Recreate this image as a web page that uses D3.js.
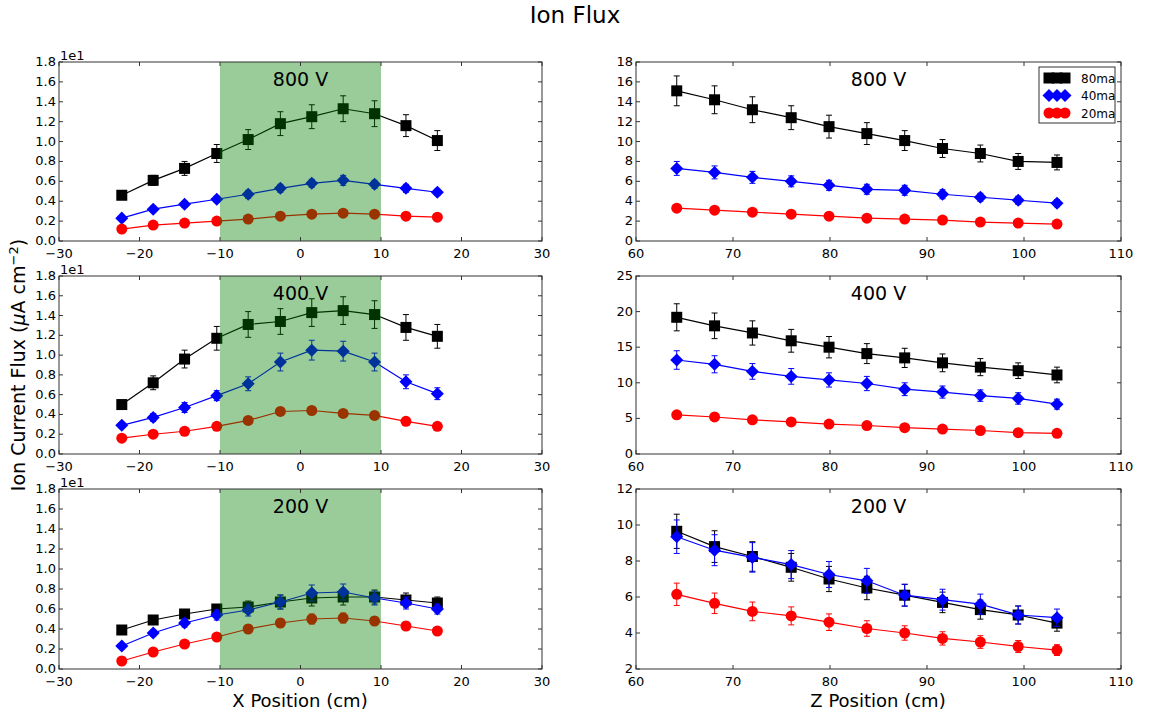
<!DOCTYPE html>
<html>
<head>
<meta charset="utf-8">
<script src="https://cdn.jsdelivr.net/npm/d3@7"></script>
<style>
  body { margin: 0; background: #fff; }
  svg { font-family: "DejaVu Sans", sans-serif; }
</style>
</head>
<body>
<svg id="chart" width="1150" height="712"></svg>
<script>
// positions of the probes
const xPos = [-22.2, -18.3, -14.4, -10.4, -6.5, -2.5, 1.4, 5.3, 9.2, 13.1, 17.0];
const zPos = [64.2, 68.1, 72.0, 76.0, 79.9, 83.8, 87.7, 91.6, 95.5, 99.4, 103.4];

// X scans (values in uA cm^-2, axis labelled in 1e1)
const x800_80 = [4.6, 6.1, 7.3, 8.8, 10.2, 11.8, 12.5, 13.3, 12.8, 11.6, 10.1];
const x800_80e = [0.3, 0.5, 0.7, 0.9, 1.0, 1.2, 1.2, 1.3, 1.3, 1.1, 1.0];
const x800_40 = [2.3, 3.2, 3.7, 4.2, 4.7, 5.3, 5.8, 6.1, 5.7, 5.3, 4.9];
const x800_40e = [0.2, 0.3, 0.3, 0.3, 0.4, 0.4, 0.4, 0.5, 0.4, 0.4, 0.3];
const x800_20 = [1.2, 1.6, 1.8, 2.0, 2.2, 2.5, 2.7, 2.8, 2.7, 2.5, 2.4];
const x800_20e = [0.1, 0.1, 0.1, 0.2, 0.2, 0.2, 0.2, 0.2, 0.2, 0.2, 0.2];

const x400_80 = [5.0, 7.2, 9.6, 11.7, 13.1, 13.4, 14.3, 14.5, 14.1, 12.8, 11.9];
const x400_80e = [0.3, 0.7, 0.9, 1.2, 1.3, 1.3, 1.4, 1.4, 1.4, 1.3, 1.2];
const x400_40 = [2.9, 3.7, 4.7, 5.9, 7.1, 9.3, 10.5, 10.4, 9.3, 7.3, 6.1];
const x400_40e = [0.3, 0.4, 0.5, 0.5, 0.7, 0.9, 1.0, 1.0, 0.9, 0.7, 0.6];
const x400_20 = [1.6, 2.0, 2.3, 2.8, 3.4, 4.3, 4.4, 4.1, 3.9, 3.3, 2.8];
const x400_20e = [0.1, 0.2, 0.2, 0.2, 0.3, 0.3, 0.3, 0.3, 0.3, 0.2, 0.2];

const x200_80 = [3.9, 4.9, 5.5, 6.0, 6.2, 6.7, 7.1, 7.2, 7.2, 6.9, 6.6];
const x200_80e = [0.2, 0.3, 0.4, 0.4, 0.6, 0.7, 0.8, 0.8, 0.7, 0.7, 0.6];
const x200_40 = [2.3, 3.6, 4.6, 5.4, 5.9, 6.7, 7.6, 7.7, 7.1, 6.6, 6.0];
const x200_40e = [0.2, 0.3, 0.4, 0.5, 0.6, 0.7, 0.8, 0.8, 0.7, 0.6, 0.5];
const x200_20 = [0.8, 1.7, 2.5, 3.2, 4.0, 4.6, 5.0, 5.1, 4.8, 4.3, 3.8];
const x200_20e = [0.1, 0.2, 0.2, 0.3, 0.4, 0.4, 0.5, 0.5, 0.4, 0.4, 0.3];

// Z scans
const z800_80 = [15.1, 14.2, 13.2, 12.4, 11.5, 10.8, 10.1, 9.3, 8.8, 8.0, 7.9];
const z800_80e = [1.5, 1.4, 1.3, 1.2, 1.15, 1.1, 1.0, 0.9, 0.85, 0.8, 0.75];
const z800_40 = [7.3, 6.9, 6.4, 6.0, 5.6, 5.2, 5.1, 4.7, 4.4, 4.1, 3.8];
const z800_40e = [0.7, 0.65, 0.6, 0.55, 0.5, 0.5, 0.5, 0.45, 0.4, 0.4, 0.35];
const z800_20 = [3.3, 3.1, 2.9, 2.7, 2.5, 2.3, 2.2, 2.1, 1.9, 1.8, 1.7];
const z800_20e = [0.3, 0.3, 0.3, 0.25, 0.25, 0.2, 0.2, 0.2, 0.2, 0.2, 0.15];

const z400_80 = [19.2, 18.0, 17.0, 15.9, 15.0, 14.1, 13.5, 12.8, 12.2, 11.7, 11.1];
const z400_80e = [1.9, 1.8, 1.7, 1.6, 1.5, 1.4, 1.35, 1.25, 1.2, 1.1, 1.1];
const z400_40 = [13.2, 12.6, 11.6, 10.9, 10.4, 9.9, 9.1, 8.7, 8.2, 7.8, 7.0];
const z400_40e = [1.3, 1.2, 1.1, 1.1, 1.0, 1.0, 0.9, 0.85, 0.8, 0.8, 0.7];
const z400_20 = [5.5, 5.2, 4.8, 4.5, 4.2, 4.0, 3.7, 3.5, 3.3, 3.0, 2.9];
const z400_20e = [0.5, 0.5, 0.5, 0.45, 0.4, 0.4, 0.35, 0.35, 0.3, 0.3, 0.3];

const z200_80 = [9.65, 8.8, 8.25, 7.65, 7.0, 6.5, 6.1, 5.7, 5.3, 5.0, 4.55];
const z200_80e = [0.95, 0.88, 0.82, 0.77, 0.7, 0.65, 0.6, 0.57, 0.53, 0.5, 0.45];
const z200_40 = [9.35, 8.6, 8.2, 7.8, 7.25, 6.9, 6.1, 5.85, 5.6, 5.0, 4.85];
const z200_40e = [0.93, 0.86, 0.82, 0.78, 0.72, 0.69, 0.61, 0.58, 0.56, 0.5, 0.48];
const z200_20 = [6.15, 5.65, 5.2, 4.95, 4.6, 4.25, 4.0, 3.7, 3.5, 3.25, 3.05];
const z200_20e = [0.62, 0.57, 0.52, 0.5, 0.46, 0.43, 0.4, 0.37, 0.35, 0.33, 0.3];

const currents = ["80ma", "40ma", "20ma"];
const colors = ["#000000", "#0000ff", "#ff0000"];
const shapes = ["square", "diamond", "circle"];
const voltages = ["800 V", "400 V", "200 V"];

const xTicks = [-30, -20, -10, 0, 10, 20, 30];
const zTicks = [60, 70, 80, 90, 100, 110];
const xYTicks = [0, 2, 4, 6, 8, 10, 12, 14, 16, 18];
const z800Ticks = [0, 2, 4, 6, 8, 10, 12, 14, 16, 18];
const z400Ticks = [0, 5, 10, 15, 20, 25];
const z200Ticks = [2, 4, 6, 8, 10, 12];

const svg = d3.select("#chart");
const cols = [{ x0: 59, x1: 542 }, { x0: 636, x1: 1121 }];
const rows = [{ y0: 62, y1: 241 }, { y0: 276, y1: 454 }, { y0: 489, y1: 669 }];

const panels = [
    { row: 0, col: 0, pos: xPos, dom: [-30, 30], ticks: xTicks, yDom: [0, 18], yTicks: xYTicks, scaled: true,
      data: [[x800_80, x800_80e], [x800_40, x800_40e], [x800_20, x800_20e]] },
    { row: 1, col: 0, pos: xPos, dom: [-30, 30], ticks: xTicks, yDom: [0, 18], yTicks: xYTicks, scaled: true,
      data: [[x400_80, x400_80e], [x400_40, x400_40e], [x400_20, x400_20e]] },
    { row: 2, col: 0, pos: xPos, dom: [-30, 30], ticks: xTicks, yDom: [0, 18], yTicks: xYTicks, scaled: true,
      data: [[x200_80, x200_80e], [x200_40, x200_40e], [x200_20, x200_20e]] },
    { row: 0, col: 1, pos: zPos, dom: [60, 110], ticks: zTicks, yDom: [0, 18], yTicks: z800Ticks, legend: true,
      data: [[z800_80, z800_80e], [z800_40, z800_40e], [z800_20, z800_20e]] },
    { row: 1, col: 1, pos: zPos, dom: [60, 110], ticks: zTicks, yDom: [0, 25], yTicks: z400Ticks,
      data: [[z400_80, z400_80e], [z400_40, z400_40e], [z400_20, z400_20e]] },
    { row: 2, col: 1, pos: zPos, dom: [60, 110], ticks: zTicks, yDom: [2, 12], yTicks: z200Ticks,
      data: [[z200_80, z200_80e], [z200_40, z200_40e], [z200_20, z200_20e]] }
];

const minus = s => String(s).replace("-", "\u2212");

function drawMarker(g, shape, color, cx, cy) {
    if (shape === "square") {
        g.append("rect").attr("x", cx - 5.5).attr("y", cy - 5.5).attr("width", 11).attr("height", 11)
            .attr("fill", color);
    } else if (shape === "diamond") {
        g.append("rect").attr("x", -4.6).attr("y", -4.6).attr("width", 9.2).attr("height", 9.2)
            .attr("fill", color).attr("transform", `translate(${cx},${cy}) rotate(45)`);
    } else {
        g.append("circle").attr("cx", cx).attr("cy", cy).attr("r", 5.5).attr("fill", color);
    }
}

panels.forEach(p => {
    const c = cols[p.col], r = rows[p.row];
    const x = d3.scaleLinear().domain(p.dom).range([c.x0, c.x1]);
    const y = d3.scaleLinear().domain(p.yDom).range([r.y1, r.y0]);
    const g = svg.append("g");

    // series
    p.data.forEach((s, si) => {
        const vals = s[0], errs = s[1];
        const color = colors[si];
        const pts = p.pos.map((v, i) => ({ x: v, y: vals[i], e: errs[i] }));
        const sg = g.append("g");
        sg.append("path")
            .attr("d", d3.line().x(d => x(d.x)).y(d => y(d.y))(pts))
            .attr("fill", "none").attr("stroke", color).attr("stroke-width", 1.2);
        pts.forEach(d => {
            const px = x(d.x), y1 = y(d.y - d.e), y2 = y(d.y + d.e);
            sg.append("line").attr("x1", px).attr("x2", px).attr("y1", y1).attr("y2", y2)
                .attr("stroke", color).attr("stroke-width", 1);
            [y1, y2].forEach(yy => sg.append("line").attr("x1", px - 3).attr("x2", px + 3)
                .attr("y1", yy).attr("y2", yy).attr("stroke", color).attr("stroke-width", 1));
        });
        pts.forEach(d => drawMarker(sg, shapes[si], color, x(d.x), y(d.y)));
    });

    // shaded span over the middle region
    if (p.col === 0) {
        g.append("rect").attr("x", x(-10)).attr("y", r.y0).attr("width", x(10) - x(-10))
            .attr("height", r.y1 - r.y0).attr("fill", "#008000").attr("opacity", 0.4);
    }

    // frame
    g.append("rect").attr("x", c.x0).attr("y", r.y0).attr("width", c.x1 - c.x0).attr("height", r.y1 - r.y0)
        .attr("fill", "none").attr("stroke", "#333").attr("stroke-width", 1);

    // ticks inward on all sides
    p.ticks.forEach(t => {
        const px = x(t);
        g.append("line").attr("x1", px).attr("x2", px).attr("y1", r.y1).attr("y2", r.y1 - 4).attr("stroke", "#333");
        g.append("line").attr("x1", px).attr("x2", px).attr("y1", r.y0).attr("y2", r.y0 + 4).attr("stroke", "#333");
        g.append("text").attr("x", px).attr("y", r.y1 + 17).attr("text-anchor", "middle")
            .attr("font-size", 13).text(minus(t));
    });
    p.yTicks.forEach(t => {
        const py = y(t);
        g.append("line").attr("x1", c.x0).attr("x2", c.x0 + 4).attr("y1", py).attr("y2", py).attr("stroke", "#333");
        g.append("line").attr("x1", c.x1).attr("x2", c.x1 - 4).attr("y1", py).attr("y2", py).attr("stroke", "#333");
        g.append("text").attr("x", c.x0 - 3).attr("y", py + 4).attr("text-anchor", "end")
            .attr("font-size", 13).text(p.scaled ? d3.format(".1f")(t / 10) : t);
    });
    if (p.scaled) {
        g.append("text").attr("x", c.x0 + 1).attr("y", r.y0 - 2).attr("font-size", 13).text("1e1");
    }

    // panel title
    g.append("text").attr("x", (c.x0 + c.x1) / 2).attr("y", r.y0 + 24).attr("text-anchor", "middle")
        .attr("font-size", 19).text(voltages[p.row]);

    if (p.legend) {
        const lx = 1039, ly = 67;
        const lg = g.append("g");
        lg.append("rect").attr("x", lx).attr("y", ly).attr("width", 76).attr("height", 56)
            .attr("fill", "#fff").attr("stroke", "#333").attr("stroke-width", 1);
        currents.forEach((name, i) => {
            const cy = ly + 11 + i * 17.5;
            lg.append("line").attr("x1", lx + 5).attr("x2", lx + 30).attr("y1", cy).attr("y2", cy)
                .attr("stroke", colors[i]).attr("stroke-width", 1.2);
            [lx + 10, lx + 18, lx + 26].forEach(mx => drawMarker(lg, shapes[i], colors[i], mx, cy));
            lg.append("text").attr("x", lx + 42).attr("y", cy + 4.5).attr("font-size", 12).text(name);
        });
    }
});

// titles and labels
svg.append("text").attr("x", 575).attr("y", 23).attr("text-anchor", "middle").attr("font-size", 23).text("Ion Flux");
svg.append("text").attr("x", 300).attr("y", 707).attr("text-anchor", "middle").attr("font-size", 18).text("X Position (cm)");
svg.append("text").attr("x", 878).attr("y", 707).attr("text-anchor", "middle").attr("font-size", 18).text("Z Position (cm)");

const yl = svg.append("text").attr("transform", "translate(25,365) rotate(-90)").attr("text-anchor", "middle")
    .attr("font-size", 19);
yl.append("tspan").text("Ion Current Flux (");
yl.append("tspan").attr("font-style", "italic").text("\u03bc");
yl.append("tspan").text("A cm");
yl.append("tspan").attr("baseline-shift", "super").attr("font-size", 13).text("\u22122");
yl.append("tspan").text(")");
</script>
</body>
</html>
